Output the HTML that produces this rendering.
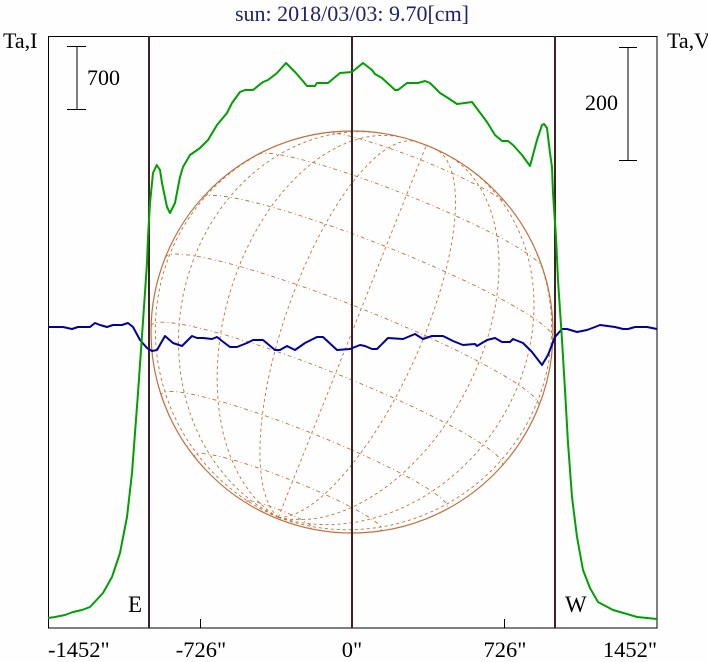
<!DOCTYPE html>
<html>
<head>
<meta charset="utf-8">
<style>
  html, body { margin:0; padding:0; background:#fdfefd; }
  body { width:708px; height:662px; overflow:hidden; }
  svg { display:block; }
  text { font-family: "Liberation Serif", "Times New Roman", serif; }
</style>
</head>
<body>
<svg id="chart" width="708" height="662" viewBox="0 0 708 662" xmlns="http://www.w3.org/2000/svg">
  <rect x="0" y="0" width="708" height="662" fill="#fdfefd"/>

  <!-- title -->
  <text x="352" y="21" font-size="22" text-anchor="middle" fill="#222268">sun: 2018/03/03: 9.70[cm]</text>

  <!-- axis side labels -->
  <text x="3" y="48" font-size="22" fill="#000">Ta,I</text>
  <text x="667" y="48" font-size="22" fill="#000">Ta,V</text>

  <!-- grid group (filled by script) -->
  <g id="grid" fill="none" stroke="#c47038" stroke-width="0.9"></g>

  <!-- solar disk outline -->
  <circle cx="352" cy="332" r="201" fill="none" stroke="#c07040" stroke-width="1.2"/>

  <!-- frame -->
  <rect x="48.5" y="36.5" width="608.5" height="591.5" fill="none" stroke="#000" stroke-width="1"/>

  <!-- bottom ticks -->
  <line x1="200.5" y1="619" x2="200.5" y2="628" stroke="#000" stroke-width="1"/>
  <line x1="504.5" y1="619" x2="504.5" y2="628" stroke="#000" stroke-width="1"/>

  <!-- scale bars -->
  <g stroke="#000" stroke-width="1">
    <line x1="77" y1="46.5" x2="77" y2="109.5"/>
    <line x1="67" y1="46.5" x2="86" y2="46.5"/>
    <line x1="67" y1="109.5" x2="86" y2="109.5"/>
    <line x1="628" y1="47.5" x2="628" y2="160.5"/>
    <line x1="619" y1="47.5" x2="637" y2="47.5"/>
    <line x1="619" y1="160.5" x2="637" y2="160.5"/>
  </g>
  <text x="87" y="85" font-size="22" fill="#000">700</text>
  <text x="585" y="110" font-size="22" fill="#000">200</text>

  <!-- vertical lines E, center, W -->
  <g stroke="#402222" stroke-width="2">
    <line x1="149" y1="36" x2="149" y2="628"/>
    <line x1="352" y1="36" x2="352" y2="628"/>
    <line x1="555" y1="36" x2="555" y2="628"/>
  </g>

  <!-- Stokes V (blue) -->
  <polyline fill="none" stroke="#0000a0" stroke-width="2" stroke-linejoin="round"
    points="48,327 63,327 72,329 78,327 90,327 95,323 100,325 107,327 113,325 122,325 128,323 133,327 140,340 147,348 152,351 157,350 165,336 173,343 182,346 192,336 197,338 203,338 212,339 217,337 222,341 230,347 237,347 247,343 253,340 263,340 275,350 280,350 287,346 295,350 305,343 317,337 323,337 337,350 350,349 360,345 365,346 372,349 377,349 388,338 403,339 415,334 423,339 432,336 443,336 453,341 463,345 475,344 477,346 487,340 495,338 502,342 510,342 513,339 523,343 532,352 542,365 548,355 555,337 562,329 567,329 577,332 587,330 595,327 600,325 615,327 623,329 628,329 635,327 647,327 657,329"/>

  <!-- Stokes I (green) -->
  <polyline fill="none" stroke="#00a000" stroke-width="2" stroke-linejoin="round"
    points="48,618 55,617 65,615 73,612 82,610 90,607 103,593 112,577 120,553 127,517 132,473 135,433 138,393 141,350 144,307 147,263 148,237 150,203 153,173 156.7,165 160,170 162,183 167,207 170,213 175,203 180,177 183,167 190,155 200,148 208,140 217,125 227,113 232,103 240,92 245,90 253,90 263,82 268,80 277,73 286,63 295,72 302,80 307,86 315,86 317,83 328,83 340,73 352,72 363,63 372,70 375,74 382,78 395,90 398,90 407,83 418,83 425,81 430,83 440,93 448,98 457,104 465,103 472,102 478,110 487,122 495,135 502,141 508,141 513,145 522,155 530,166 537,140 542,125 544,124 547,128 550,153 552,167 553,193 556,237 558,280 562,340 565,390 568,443 572,497 577,537 583,570 590,588 598,602 613,610 627,614 637,617 657,619"/>

  <!-- E / W -->
  <text x="128" y="612" font-size="23" fill="#000">E</text>
  <text x="565" y="612" font-size="23" fill="#000">W</text>

  <!-- bottom axis labels -->
  <text x="48" y="657" font-size="22.5" fill="#000">-1452"</text>
  <text x="201" y="657" font-size="22.5" text-anchor="middle" fill="#000">-726"</text>
  <text x="352" y="657" font-size="22.5" text-anchor="middle" fill="#000">0"</text>
  <text x="505" y="657" font-size="22.5" text-anchor="middle" fill="#000">726"</text>
  <text x="657" y="657" font-size="22.5" text-anchor="end" fill="#000">1452"</text>
</svg>
<script>
(function(){
  var NS="http://www.w3.org/2000/svg";
  var g=document.getElementById("grid");
  var D=Math.PI/180;
  var cx=352, cy=332, R=201;
  var B=-7.2*D, th=21.7*D;
  function proj(lat, lon){
    var f=lat*D, l=lon*D;
    var x=R*Math.cos(f)*Math.sin(l);
    var y=R*(Math.sin(f)*Math.cos(B)-Math.cos(f)*Math.cos(l)*Math.sin(B));
    var z=Math.sin(f)*Math.sin(B)+Math.cos(f)*Math.cos(l)*Math.cos(B);
    var X=x*Math.cos(th)+y*Math.sin(th);
    var Y=-x*Math.sin(th)+y*Math.cos(th);
    return [cx+X, cy-Y, z];
  }
  function addPath(pts, dash){
    if(pts.length<2) return;
    var d="M"+pts.map(function(p){return p[0].toFixed(1)+","+p[1].toFixed(1);}).join(" L");
    var p=document.createElementNS(NS,"path");
    p.setAttribute("d",d);
    p.setAttribute("stroke-dasharray",dash);
    g.appendChild(p);
  }
  function trace(fn, a0, a1, step, dash){
    var cur=[];
    for(var a=a0;a<=a1+1e-9;a+=step){
      var p=fn(a);
      if(p[2]>=0){cur.push(p);}
      else { addPath(cur,dash); cur=[]; }
    }
    addPath(cur,dash);
  }
  for(var lat=-80; lat<=80; lat+=20){
    (function(lt){
      trace(function(lo){return proj(lt,lo);}, -180, 180, 1, "4,3,1,3");
    })(lat);
  }
  for(var lon=-80; lon<=80; lon+=20){
    (function(ln){
      trace(function(la){return proj(la,ln);}, -90, 90, 1, "3,3");
    })(lon);
  }
})();
</script>
</body>
</html>
